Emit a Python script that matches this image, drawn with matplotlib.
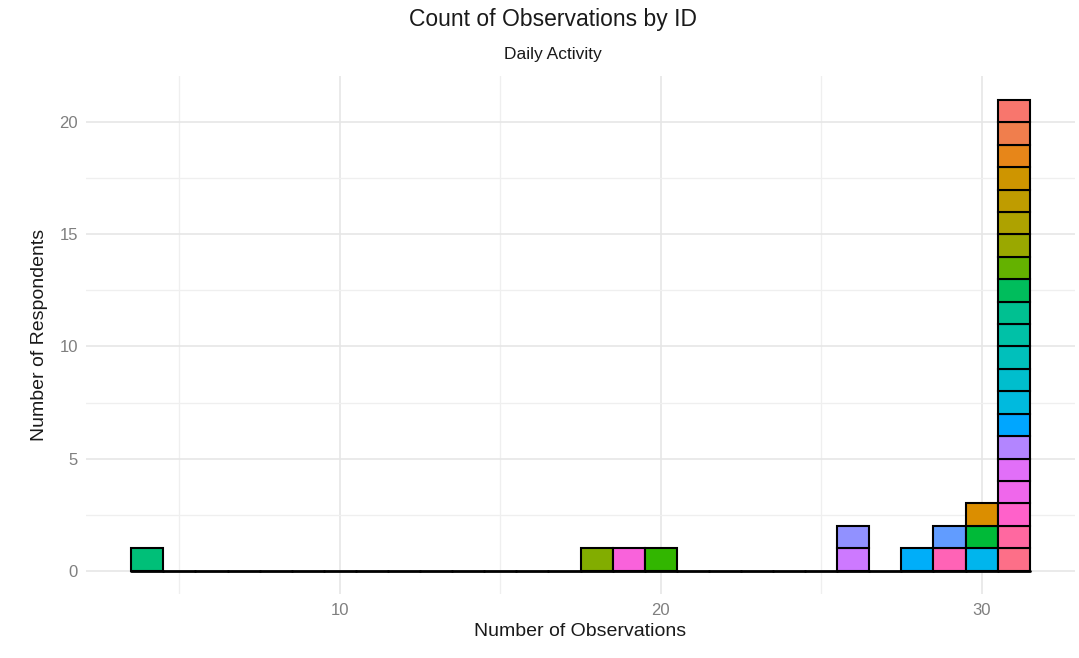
import numpy as np
import matplotlib
matplotlib.use("Agg")
import matplotlib.pyplot as plt

plt.rcParams['font.family'] = ['Liberation Sans', 'DejaVu Sans']

# number of observation days per ID (33 ids, in factor order)
obs_per_id = [31, 31, 31, 30, 31, 31, 31, 31, 18, 31, 20, 30, 31, 4, 31, 31, 31,
              31, 31, 30, 28, 31, 29, 26, 31, 26, 31, 31, 19, 31, 29, 31, 31]
bins = list(range(4, 32))
xticks = [10, 20, 30]
yticks = [0, 5, 10, 15, 20]


def hcl_hex(h, c=100, l=65):
    # R grDevices::hcl (polar CIE-LUV -> sRGB)
    wu, wv = 0.1978398, 0.4683363
    hr = np.deg2rad(h)
    U, V = c * np.cos(hr), c * np.sin(hr)
    Y = ((l + 16) / 116) ** 3 if l > 7.999592 else l / 903.3
    u = U / (13 * l) + wu
    v = V / (13 * l) + wv
    X = 9.0 * Y * u / (4 * v)
    Z = -X / 3 - 5 * Y + 3 * Y / v

    def g(x):
        x = min(max(x, 0), 1)
        return 1.055 * x ** (1 / 2.4) - 0.055 if x > 0.00304 else 12.92 * x
    r = g(3.240479 * X - 1.537150 * Y - 0.498535 * Z)
    gg = g(-0.969256 * X + 1.875992 * Y + 0.041556 * Z)
    b = g(0.055648 * X - 0.204043 * Y + 1.057311 * Z)
    return (min(max(r, 0), 1), min(max(gg, 0), 1), min(max(b, 0), 1))


n = len(obs_per_id)
hues = np.linspace(15, 375, n + 1)[:n]
cols = [hcl_hex(h) for h in hues]

fig = plt.figure(figsize=(10.79, 6.58), dpi=100)
ax = fig.add_axes([0.080, 0.097, 0.916, 0.787])

# empty bins -> zero height outlines
zero = ax.bar(bins, [0] * len(bins), width=1, bottom=0, facecolor='none',
              edgecolor='black', linewidth=2.0, zorder=3)
for p in zero:
    p.set_joinstyle('round')
    p.set_capstyle('round')

for b in bins:
    ids = [i for i, v in enumerate(obs_per_id) if v == b]
    bottom = 0
    for i in reversed(ids):  # first level ends up on top
        ax.bar(b, 1, width=1, bottom=bottom, color=cols[i], edgecolor='black',
               linewidth=1.5, zorder=4)
        bottom += 1

ax.set_xlim(2.1, 32.9)
ax.set_ylim(-1.05, 22.05)
ax.set_xticks(xticks)
ax.set_yticks(yticks)
ax.set_xticks([5, 15, 25], minor=True)
ax.set_yticks([2.5, 7.5, 12.5, 17.5], minor=True)
ax.grid(True, which='major', color='#E6E6E6', linewidth=1.2, zorder=0)
ax.grid(True, which='minor', color='#EFEFEF', linewidth=0.9, zorder=0)
ax.set_axisbelow(True)
for s in ax.spines.values():
    s.set_visible(False)
ax.tick_params(which='both', length=0, labelsize=12, labelcolor='#7f7f7f', pad=6)

ax.set_xlabel('Number of Observations', fontsize=14, color='#1a1a1a', labelpad=4)
ax.set_ylabel('Number of Respondents', fontsize=14, color='#1a1a1a', labelpad=8)
fig.text(0.5125, 0.970, 'Count of Observations by ID', ha='center', va='center',
         fontsize=16.5, color='#1a1a1a')
fig.text(0.5125, 0.917, 'Daily Activity', ha='center', va='center',
         fontsize=12.5, color='#1a1a1a')

fig.savefig('out.png', dpi=100)
